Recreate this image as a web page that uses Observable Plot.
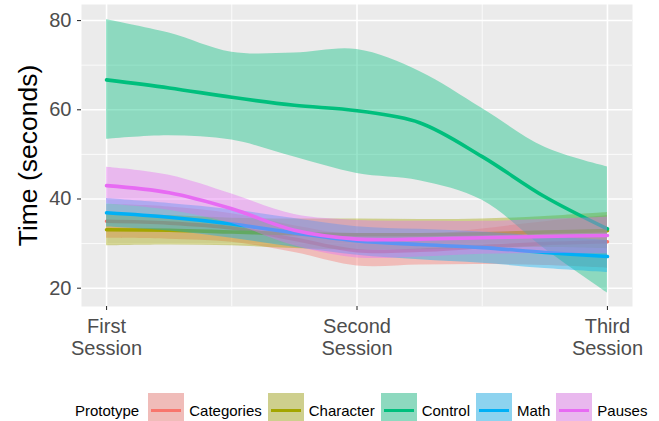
<!DOCTYPE html>
<html><head><meta charset="utf-8">
<script src="https://cdn.jsdelivr.net/npm/d3@7"></script>
<script src="https://cdn.jsdelivr.net/npm/@observablehq/plot@0.6"></script>
<style>
body{margin:0;background:#fff;width:659px;height:421px;overflow:hidden;font-family:"Liberation Sans",Arial,sans-serif;}
#legend{display:flex;align-items:center;height:60px;padding-left:75px;font-size:15px;color:#000;white-space:nowrap;}
#legend .title{margin-right:9px;}
#legend .key{position:relative;width:36px;height:34px;background:#EBEBEB;margin-right:5px;flex:none;}
#legend .key .fill{position:absolute;left:0;top:0;right:0;bottom:0;opacity:0.4;}
#legend .key .ln{position:absolute;left:3px;right:3px;top:15.5px;height:3px;}
#legend .lab{margin-right:6px;}
</style></head><body><div id="chart"></div><div id="legend"></div>
<script>
// Session positions (1 = First, 2 = Second, 3 = Third) at which values were read
const sessions = [1, 1.25, 1.5, 1.75, 2, 2.25, 2.5, 2.75, 3];
const sessionTicks = [1, 2, 3];
const sessionLabels = ["First\nSession", "Second\nSession", "Third\nSession"];
const yTicks = [20, 40, 60, 80];
const yMinorTicks = [30, 50, 70];
const xMinorTicks = [1.5, 2.5];
const prototypes = ["Categories", "Character", "Control", "Math", "Pauses"];
const colors = ["#F8766D", "#A3A500", "#00BF7D", "#00B0F6", "#E76BF3"];

const categoriesMean = [35.0, 34.6, 33.5, 31.0, 28.4, 28.5, 29.3, 30.0, 30.4];
const categoriesLow  = [31.2, 31.0, 30.3, 28.0, 25.0, 25.2, 25.3, 25.1, 24.5];
const categoriesHigh = [38.8, 38.2, 36.7, 34.0, 31.8, 31.8, 33.3, 34.9, 36.3];

const characterMean = [33.1, 33.0, 32.6, 32.2, 32.0, 32.0, 32.2, 32.6, 32.9];
const characterLow  = [29.5, 29.7, 29.5, 28.9, 28.5, 28.6, 28.9, 29.1, 28.8];
const characterHigh = [36.7, 36.3, 35.7, 35.5, 35.5, 35.4, 35.5, 36.1, 37.0];

const controlMean = [66.7, 64.9, 62.8, 61.0, 59.8, 57.1, 49.5, 40.5, 33.3];
const controlLow  = [53.4, 54.2, 53.2, 49.4, 45.7, 44.1, 39.7, 28.8, 18.9];
const controlHigh = [80.2, 77.2, 72.9, 72.7, 73.5, 68.6, 60.3, 51.6, 47.2];

const mathMean = [36.9, 35.9, 34.4, 32.4, 30.6, 29.8, 29.1, 28.0, 27.1];
const mathLow  = [33.7, 32.8, 31.2, 29.2, 27.4, 26.4, 25.6, 24.4, 23.5];
const mathHigh = [40.1, 39.0, 37.6, 35.6, 33.8, 33.2, 32.6, 31.6, 30.7];

const pausesMean = [43.0, 41.4, 37.8, 33.0, 31.0, 31.0, 31.3, 31.6, 31.8];
const pausesLow  = [38.9, 37.5, 34.5, 29.5, 26.8, 27.0, 27.6, 27.8, 27.7];
const pausesHigh = [47.1, 45.3, 41.1, 36.5, 35.2, 35.0, 35.0, 35.4, 35.9];

const seriesTable = {
  Categories: [categoriesMean, categoriesLow, categoriesHigh],
  Character: [characterMean, characterLow, characterHigh],
  Control: [controlMean, controlLow, controlHigh],
  Math: [mathMean, mathLow, mathHigh],
  Pauses: [pausesMean, pausesLow, pausesHigh]
};

const rows = [];
prototypes.forEach(p => {
  const [m, lo, hi] = seriesTable[p];
  sessions.forEach((s, i) => rows.push({prototype: p, session: s, mean: m[i], low: lo[i], high: hi[i]}));
});

const marks = [
  Plot.frame({fill: "#EBEBEB"}),
  Plot.gridY(yMinorTicks, {stroke: "white", strokeOpacity: 1, strokeWidth: 0.8}),
  Plot.gridX(xMinorTicks, {stroke: "white", strokeOpacity: 1, strokeWidth: 0.8}),
  Plot.gridY(yTicks, {stroke: "white", strokeOpacity: 1, strokeWidth: 1.6}),
  Plot.gridX(sessionTicks, {stroke: "white", strokeOpacity: 1, strokeWidth: 1.6})
];
prototypes.forEach(p => {
  const d = rows.filter(r => r.prototype === p);
  marks.push(Plot.areaY(d, {x: "session", y1: "low", y2: "high", fill: "prototype", fillOpacity: 0.4, curve: "catmull-rom"}));
  marks.push(Plot.lineY(d, {x: "session", y: "mean", stroke: "prototype", strokeWidth: 3.6, curve: "catmull-rom"}));
});
marks.push(Plot.axisY(yTicks, {tickSize: 4, tickPadding: 6, fontSize: 20, stroke: "#333333", strokeWidth: 1.1, fill: "#4D4D4D", label: null}));
marks.push(Plot.axisX(sessionTicks, {tickSize: 4, tickPadding: 7, fontSize: 20, lineHeight: 1.1, stroke: "#333333", strokeWidth: 1.1, fill: "#4D4D4D", label: null,
  tickFormat: d => sessionLabels[sessionTicks.indexOf(d)]}));
marks.push(Plot.text(["Time (seconds)"], {frameAnchor: "left", textAnchor: "middle", lineAnchor: "middle", rotate: -90, dx: -53, fontSize: 26.5, fill: "#000"}));

const chart = Plot.plot({
  width: 659, height: 380,
  marginLeft: 81, marginRight: 27, marginTop: 4, marginBottom: 74,
  style: {fontFamily: "'Liberation Sans', Arial, sans-serif", background: "white", overflow: "visible"},
  x: {domain: [0.9, 3.1]},
  y: {domain: [15.9, 83.6]},
  color: {domain: prototypes, range: colors},
  marks
});
document.getElementById("chart").appendChild(chart);

const legend = document.getElementById("legend");
const t = document.createElement("span"); t.className = "title"; t.textContent = "Prototype"; legend.appendChild(t);
prototypes.forEach((p, i) => {
  const k = document.createElement("span"); k.className = "key";
  const f = document.createElement("span"); f.className = "fill"; f.style.background = colors[i]; k.appendChild(f);
  const l = document.createElement("span"); l.className = "ln"; l.style.background = colors[i]; k.appendChild(l);
  legend.appendChild(k);
  const lab = document.createElement("span"); lab.className = "lab"; lab.textContent = p; legend.appendChild(lab);
});
</script></body></html>
